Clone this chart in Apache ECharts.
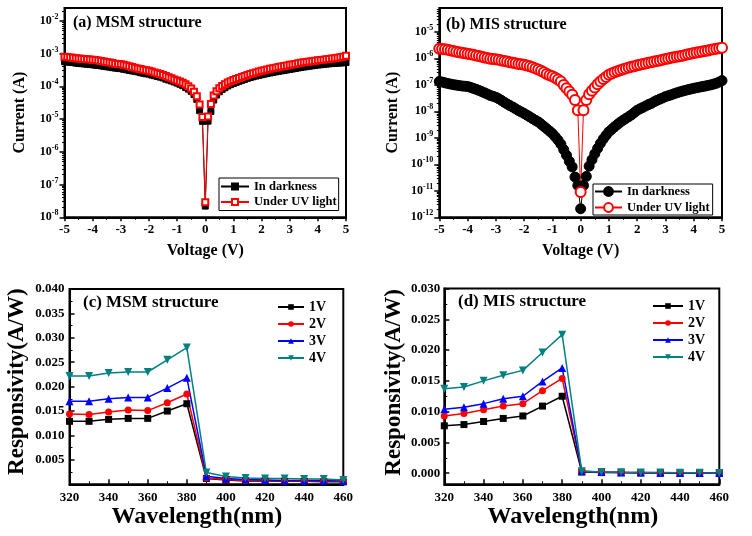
<!DOCTYPE html>
<html><head><meta charset="utf-8">
<script src="https://cdn.jsdelivr.net/npm/echarts@6/dist/echarts.min.js"></script>
<style>html,body{margin:0;padding:0;background:#fff}#chart{width:752px;height:536px}</style>
</head><body><div id="chart"></div>
<script>
// ---------- data ----------
const voltage = [-5,-4.9,-4.8,-4.7,-4.6,-4.5,-4.4,-4.3,-4.2,-4.1,-4,-3.9,-3.8,-3.7,-3.6,-3.5,-3.4,-3.3,-3.2,-3.1,-3,-2.9,-2.8,-2.7,-2.6,-2.5,-2.4,-2.3,-2.2,-2.1,-2,-1.9,-1.8,-1.7,-1.6,-1.5,-1.4,-1.3,-1.2,-1.1,-1,-0.9,-0.8,-0.7,-0.6,-0.5,-0.4,-0.3,-0.2,-0.1,0,0.1,0.2,0.3,0.4,0.5,0.6,0.7,0.8,0.9,1,1.1,1.2,1.3,1.4,1.5,1.6,1.7,1.8,1.9,2,2.1,2.2,2.3,2.4,2.5,2.6,2.7,2.8,2.9,3,3.1,3.2,3.3,3.4,3.5,3.6,3.7,3.8,3.9,4,4.1,4.2,4.3,4.4,4.5,4.6,4.7,4.8,4.9,5];

// (a) MSM structure
const msmDark = [5.6e-4,5.5e-4,5.4e-4,5.3e-4,5.1e-4,5.0e-4,4.9e-4,4.8e-4,4.7e-4,4.6e-4,
 4.55e-4,4.4e-4,4.3e-4,4.2e-4,4.05e-4,3.95e-4,3.85e-4,3.7e-4,3.6e-4,3.5e-4,
 3.45e-4,3.3e-4,3.2e-4,3.05e-4,2.95e-4,2.85e-4,2.75e-4,2.6e-4,2.5e-4,2.4e-4,
 2.35e-4,2.2e-4,2.1e-4,2.0e-4,1.9e-4,1.8e-4,1.65e-4,1.55e-4,1.45e-4,1.35e-4,
 1.25e-4,1.15e-4,1.05e-4,9.2e-5,8.2e-5,7.0e-5,5.6e-5,4.0e-5,1.8e-5,8.5e-6,
 2.2e-8,
 8.6e-6,1.7e-5,3.8e-5,5.4e-5,6.8e-5,8.0e-5,9.0e-5,1.02e-4,1.12e-4,1.22e-4,
 1.32e-4,1.42e-4,1.52e-4,1.62e-4,1.75e-4,1.85e-4,1.95e-4,2.05e-4,2.15e-4,2.25e-4,
 2.35e-4,2.45e-4,2.55e-4,2.65e-4,2.75e-4,2.85e-4,2.95e-4,3.05e-4,3.15e-4,3.25e-4,
 3.37e-4,3.5e-4,3.62e-4,3.74e-4,3.86e-4,3.98e-4,4.1e-4,4.22e-4,4.34e-4,4.45e-4,
 4.55e-4,4.65e-4,4.75e-4,4.85e-4,4.93e-4,5.0e-4,5.07e-4,5.13e-4,5.2e-4,5.3e-4];
const msmUV = [8.0e-4,7.8e-4,7.6e-4,7.4e-4,7.2e-4,7.0e-4,6.9e-4,6.8e-4,6.7e-4,6.6e-4,
 6.5e-4,6.3e-4,6.1e-4,5.9e-4,5.7e-4,5.5e-4,5.3e-4,5.1e-4,4.9e-4,4.8e-4,
 4.7e-4,4.5e-4,4.3e-4,4.1e-4,3.9e-4,3.7e-4,3.5e-4,3.35e-4,3.2e-4,3.1e-4,
 3.0e-4,2.8e-4,2.65e-4,2.5e-4,2.35e-4,2.2e-4,2.05e-4,1.9e-4,1.75e-4,1.6e-4,
 1.5e-4,1.4e-4,1.28e-4,1.15e-4,1.0e-4,8.5e-5,6.8e-5,5.0e-5,2.8e-5,1.15e-5,
 2.9e-8,
 1.2e-5,2.9e-5,5.2e-5,7.0e-5,8.7e-5,1.02e-4,1.16e-4,1.3e-4,1.42e-4,1.55e-4,
 1.68e-4,1.8e-4,1.93e-4,2.06e-4,2.2e-4,2.35e-4,2.5e-4,2.65e-4,2.8e-4,2.95e-4,
 3.1e-4,3.25e-4,3.4e-4,3.55e-4,3.7e-4,3.85e-4,4.0e-4,4.15e-4,4.3e-4,4.5e-4,
 4.65e-4,4.8e-4,5.0e-4,5.2e-4,5.4e-4,5.55e-4,5.7e-4,5.85e-4,6.0e-4,6.2e-4,
 6.35e-4,6.5e-4,6.65e-4,6.8e-4,7.0e-4,7.2e-4,7.4e-4,7.7e-4,8.0e-4,8.5e-4];

// (b) MIS structure
const misDark = [1.35e-7,1.28e-7,1.2e-7,1.13e-7,1.07e-7,1.02e-7,9.8e-8,9.4e-8,9.1e-8,8.9e-8,
 8.7e-8,8.1e-8,7.4e-8,6.8e-8,6.2e-8,5.6e-8,5.0e-8,4.5e-8,4.0e-8,3.7e-8,
 3.4e-8,3.0e-8,2.6e-8,2.2e-8,1.9e-8,1.65e-8,1.45e-8,1.25e-8,1.08e-8,9.5e-9,
 8.3e-9,7.2e-9,6.2e-9,5.3e-9,4.6e-9,4.0e-9,3.3e-9,2.7e-9,2.2e-9,1.8e-9,
 1.45e-9,1.1e-9,8.2e-10,5.8e-10,3.6e-10,2.2e-10,1.3e-10,8.0e-11,3.3e-11,1.6e-11,
 2.1e-12,
 1.6e-11,3.5e-11,8.5e-11,1.5e-10,2.5e-10,4.0e-10,6.2e-10,9.0e-10,1.25e-9,1.7e-9,
 2.1e-9,2.6e-9,3.2e-9,3.9e-9,4.6e-9,5.4e-9,6.3e-9,7.4e-9,9.0e-9,1.1e-8,
 1.25e-8,1.4e-8,1.6e-8,1.8e-8,2.0e-8,2.3e-8,2.6e-8,2.9e-8,3.2e-8,3.6e-8,
 3.9e-8,4.2e-8,4.6e-8,5.0e-8,5.4e-8,5.8e-8,6.2e-8,6.6e-8,7.0e-8,7.4e-8,
 7.8e-8,8.2e-8,8.6e-8,9.0e-8,9.5e-8,1.0e-7,1.07e-7,1.15e-7,1.28e-7,1.45e-7];
const misUV = [2.3e-6,2.25e-6,2.2e-6,2.1e-6,2.0e-6,1.9e-6,1.8e-6,1.7e-6,1.62e-6,1.55e-6,
 1.5e-6,1.43e-6,1.36e-6,1.29e-6,1.22e-6,1.15e-6,1.09e-6,1.03e-6,9.8e-7,9.5e-7,
 9.3e-7,8.9e-7,8.4e-7,8.0e-7,7.6e-7,7.2e-7,6.8e-7,6.5e-7,6.2e-7,6.0e-7,
 5.8e-7,5.4e-7,5.0e-7,4.6e-7,4.2e-7,3.8e-7,3.4e-7,3.0e-7,2.6e-7,2.3e-7,
 2.1e-7,1.85e-7,1.6e-7,1.35e-7,1.0e-7,7.5e-8,5.6e-8,4.2e-8,2.7e-8,1.1e-8,
 9.0e-12,
 1.1e-8,2.7e-8,4.4e-8,6.0e-8,8.0e-8,1.05e-7,1.35e-7,1.65e-7,2.0e-7,2.4e-7,
 2.7e-7,3.0e-7,3.3e-7,3.6e-7,3.9e-7,4.2e-7,4.5e-7,4.8e-7,5.1e-7,5.5e-7,
 5.8e-7,6.1e-7,6.4e-7,6.8e-7,7.2e-7,7.6e-7,8.0e-7,8.4e-7,8.9e-7,9.5e-7,
 1.0e-6,1.05e-6,1.1e-6,1.15e-6,1.2e-6,1.27e-6,1.35e-6,1.42e-6,1.5e-6,1.6e-6,
 1.67e-6,1.75e-6,1.83e-6,1.9e-6,2.0e-6,2.1e-6,2.2e-6,2.3e-6,2.4e-6,2.5e-6];

// (c)/(d) responsivity
const wavelength = [320,330,340,350,360,370,380,390,400,410,420,430,440,450,460];
const msm1V = [0.0129,0.0129,0.0133,0.0135,0.0135,0.0150,0.0165,0.0012,0.0009,0.0007,0.0007,0.0006,0.0006,0.0005,0.0005];
const msm2V = [0.0144,0.0143,0.0148,0.0152,0.0151,0.0167,0.0185,0.0013,0.0010,0.0008,0.0008,0.0007,0.0007,0.0007,0.0006];
const msm3V = [0.0170,0.0170,0.0175,0.0178,0.0178,0.0197,0.0218,0.00165,0.0012,0.0010,0.0009,0.0008,0.0008,0.0008,0.0007];
const msm4V = [0.0222,0.0222,0.0228,0.0230,0.0230,0.0255,0.0280,0.0024,0.0016,0.0013,0.0012,0.0012,0.0011,0.0011,0.0009];
const mis1V = [0.0077,0.0079,0.0084,0.0089,0.0093,0.0109,0.0125,0.0002,0.0001,0.0001,0.00005,0.00003,0.00002,0.00002,0.00002];
const mis2V = [0.0093,0.0097,0.0103,0.0109,0.0113,0.0134,0.0154,0.0003,0.00015,0.0001,0.00008,0.00005,0.00004,0.00003,0.00003];
const mis3V = [0.0104,0.0107,0.0113,0.0121,0.0125,0.0149,0.0171,0.0003,0.00018,0.00012,0.0001,0.00007,0.00005,0.00004,0.00004];
const mis4V = [0.0137,0.0140,0.0150,0.0159,0.0167,0.0196,0.0225,0.0003,0.0002,0.00015,0.00012,0.0001,0.00008,0.00006,0.00005];

const misRespTicks = [0,0.005,0.010,0.015,0.020,0.025,0.030];
const misRespMinor = [0.0025,0.0075,0.0125,0.0175,0.0225,0.0275];

// ---------- helpers ----------
const FONT = "'Liberation Serif','Times New Roman',serif";
const BLACK = '#000';
function logMinor(lo, hi, maxV){
  const out=[];
  for(let d=lo; d<=hi; d++){ for(let k=2;k<=9;k++){ const v=k*Math.pow(10,d); if(v<maxV) out.push(v);} }
  return out;
}
const pairs = (xs, ys) => xs.map((x,i)=>[x, ys[i]]);
const strip = n => n.replace(/ \([a-d]\)$/,'');
const lbl = (size) => ({fontFamily:FONT, fontWeight:'bold', fontSize:size, color:BLACK});
const supLabel = {
  formatter: v => '{b|10}{s|' + Math.round(Math.log10(v)) + '}',
  rich: {
    b: {fontFamily:FONT, fontWeight:'bold', fontSize:12, color:BLACK, lineHeight:16, verticalAlign:'middle'},
    s: {fontFamily:FONT, fontWeight:'bold', fontSize:8, color:BLACK, lineHeight:10, verticalAlign:'top'}
  }
};

function xAxisBase(grid, min, max, interval, inside, name, nameSize, nameGap){
  return {type:'value', gridIndex:grid, min, max, interval,
    axisLine:{show:true, onZero:false, lineStyle:{color:BLACK, width:2}},
    axisTick:{show:true, inside, length:4, lineStyle:{color:BLACK, width:1.5}},
    minorTick:{show:true, splitNumber:2, length:2.5, lineStyle:{color:BLACK, width:1}},
    axisLabel:Object.assign({margin:6}, lbl(13)),
    splitLine:{show:false}, minorSplitLine:{show:false},
    name, nameLocation:'middle', nameGap, nameTextStyle:lbl(nameSize)};
}

const grids = [
  {left:64.5, top:8, width:281.5, height:209.3},
  {left:439.3, top:8, width:282.7, height:209.3},
  {left:69.5, top:289, width:273.8, height:195.3},
  {left:444.3, top:288.5, width:275, height:195.8}
].map(g => Object.assign({show:true, borderColor:BLACK, borderWidth:2, backgroundColor:'transparent'}, g));

const xAxes = [
  xAxisBase(0, -5, 5, 1, false, 'Voltage (V)', 16, 26),
  xAxisBase(1, -5, 5, 1, false, 'Voltage (V)', 16, 26),
  xAxisBase(2, 320, 460, 20, true, 'Wavelength(nm)', 24, 17),
  xAxisBase(3, 320, 460, 20, true, 'Wavelength(nm)', 24, 17)
];
xAxes[2].axisLabel.margin = 7; xAxes[3].axisLabel.margin = 7;
xAxes[2].axisTick.length = 5; xAxes[3].axisTick.length = 5;
xAxes[2].minorTick.length = 3; xAxes[3].minorTick.length = 3;
xAxes[2].nameTextStyle.padding = [0, 19, 0, 0];
xAxes[3].nameTextStyle.padding = [0, 18, 0, 0];

const yAxes = [
  { type:'log', logBase:10, gridIndex:0, min:1e-8, max:0.0245, position:'left',
    axisLine:{show:true, onZero:false, lineStyle:{color:BLACK, width:2}},
    axisTick:{show:true, inside:false, length:5, lineStyle:{color:BLACK, width:1.5}},
    axisLabel:Object.assign({margin:6, showMaxLabel:false}, supLabel),
    splitLine:{show:false},
    name:'Current (A)', nameLocation:'middle', nameGap:37, nameTextStyle:lbl(16)},
  { type:'log', logBase:10, gridIndex:1, min:1e-12, max:8e-5, position:'left',
    axisLine:{show:true, onZero:false, lineStyle:{color:BLACK, width:2}},
    axisTick:{show:true, inside:false, length:5, lineStyle:{color:BLACK, width:1.5}},
    axisLabel:Object.assign({margin:6, showMaxLabel:false}, supLabel),
    splitLine:{show:false},
    name:'Current (A)', nameLocation:'middle', nameGap:38, nameTextStyle:lbl(16)},
  { type:'value', gridIndex:2, min:0, max:0.04, interval:0.005, position:'left',
    axisLine:{show:true, onZero:false, lineStyle:{color:BLACK, width:2}},
    axisTick:{show:true, inside:true, length:5, lineStyle:{color:BLACK, width:1.5}},
    minorTick:{show:true, splitNumber:2, length:3, lineStyle:{color:BLACK, width:1}},
    axisLabel:Object.assign({margin:5, showMinLabel:false, formatter:v=>v.toFixed(3)}, lbl(13)),
    splitLine:{show:false}, minorSplitLine:{show:false},
    name:'Responsivity(A/W)', nameLocation:'middle', nameGap:41,
    nameTextStyle:Object.assign({padding:[0,0,0,10]}, lbl(23))},
  { type:'value', gridIndex:3, min:-0.0018, max:0.030, position:'left',
    axisLine:{show:true, onZero:false, lineStyle:{color:BLACK, width:2}},
    axisTick:{show:true, inside:true, length:5, customValues:misRespTicks, lineStyle:{color:BLACK, width:1.5}},
    axisLabel:Object.assign({margin:4, customValues:misRespTicks, formatter:v=>Number(v).toFixed(3)}, lbl(13)),
    splitLine:{show:false},
    name:'Responsivity(A/W)', nameLocation:'middle', nameGap:39,
    nameTextStyle:Object.assign({padding:[0,0,0,8]}, lbl(23))},
  // minor tick helper axes
  { type:'log', logBase:10, gridIndex:0, min:1e-8, max:0.0245, position:'left',
    axisLine:{show:false, onZero:false}, axisLabel:{show:false}, splitLine:{show:false},
    axisTick:{show:true, inside:false, length:2.5, customValues:logMinor(-8,-2,0.0245), lineStyle:{color:BLACK, width:1}}},
  { type:'log', logBase:10, gridIndex:1, min:1e-12, max:8e-5, position:'left',
    axisLine:{show:false, onZero:false}, axisLabel:{show:false}, splitLine:{show:false},
    axisTick:{show:true, inside:false, length:2.5, customValues:logMinor(-12,-5,8e-5), lineStyle:{color:BLACK, width:1}}},
  { type:'value', gridIndex:3, min:-0.0018, max:0.030, position:'left',
    axisLine:{show:false, onZero:false}, axisLabel:{show:false}, splitLine:{show:false},
    axisTick:{show:true, inside:true, length:3, customValues:misRespMinor, lineStyle:{color:BLACK, width:1}}}
];

function ivSeries(name, grid, yIdx, data, symbol, size, color){
  return {name, type:'line', xAxisIndex:grid, yAxisIndex:yIdx, data:pairs(voltage, data),
    symbol, symbolSize:size, showAllSymbol:true, animation:false,
    itemStyle:{color, borderColor:color, borderWidth:1},
    lineStyle:{color, width:1}};
}
const respColors = ['#000000','#ff0000','#0000ff','#008080'];
const respSymbols = ['rect','circle','triangle','triangle'];
const respSizes = [7,7,8,8];
const respRot = [0,0,0,180];
function respSeries(name, grid, yIdx, data, i){
  return {name, type:'line', xAxisIndex:grid, yAxisIndex:yIdx, data:pairs(wavelength, data),
    symbol:respSymbols[i], symbolSize:respSizes[i], symbolRotate:respRot[i], animation:false,
    itemStyle:{color:respColors[i]}, lineStyle:{color:respColors[i], width:1.5}};
}

const series = [
  ivSeries('In darkness (a)', 0, 0, msmDark, 'rect', 6, '#000'),
  ivSeries('Under UV light (a)', 0, 0, msmUV, 'emptyRect', 6, '#ff0000'),
  ivSeries('In darkness (b)', 1, 1, misDark, 'circle', 10, '#000'),
  ivSeries('Under UV light (b)', 1, 1, misUV, 'emptyCircle', 10, '#ff0000'),
  respSeries('1V (c)', 2, 2, msm1V, 0),
  respSeries('2V (c)', 2, 2, msm2V, 1),
  respSeries('3V (c)', 2, 2, msm3V, 2),
  respSeries('4V (c)', 2, 2, msm4V, 3),
  respSeries('1V (d)', 3, 3, mis1V, 0),
  respSeries('2V (d)', 3, 3, mis2V, 1),
  respSeries('3V (d)', 3, 3, mis3V, 2),
  respSeries('4V (d)', 3, 3, mis4V, 3)
];

const titleStyle = s => ({fontFamily:FONT, fontWeight:'bold', fontSize:s, color:BLACK});
const titles = [
  {text:'(a) MSM structure', left:73, top:15, padding:0, textStyle:titleStyle(16)},
  {text:'(b) MIS structure', left:446, top:17, padding:0, textStyle:titleStyle(16)},
  {text:'(c) MSM structure', left:83, top:294, padding:0, textStyle:titleStyle(17)},
  {text:'(d) MIS structure', left:458, top:293, padding:0, textStyle:titleStyle(17)}
];

const legends = [
  {data:['In darkness (a)','Under UV light (a)'], left:219, top:178, orient:'vertical',
   itemWidth:28, itemHeight:7.5, itemGap:2.5, padding:[2,2,2,1], borderColor:BLACK, borderWidth:1,
   formatter:strip, textStyle:lbl(12.5), selectedMode:false},
  {data:['In darkness (b)','Under UV light (b)'], left:593, top:184, orient:'vertical',
   itemWidth:27, itemHeight:11, itemGap:3, padding:[1,3,1,1], borderColor:BLACK, borderWidth:1,
   formatter:strip, textStyle:lbl(12.5), selectedMode:false},
  {data:['1V (c)','2V (c)','3V (c)','4V (c)'], left:277, top:300, orient:'vertical',
   itemWidth:26, itemHeight:7, itemGap:3, padding:0,
   formatter:strip, textStyle:lbl(14), selectedMode:false},
  {data:['1V (d)','2V (d)','3V (d)','4V (d)'], left:652, top:299, orient:'vertical',
   itemWidth:30, itemHeight:7, itemGap:3, padding:0,
   formatter:strip, textStyle:lbl(14), selectedMode:false}
];

const chart = echarts.init(document.getElementById('chart'), null, {renderer:'canvas'});
chart.setOption({
  backgroundColor:'#fff', animation:false,
  title:titles, legend:legends, grid:grids, xAxis:xAxes, yAxis:yAxes, series
});
</script></body></html>
